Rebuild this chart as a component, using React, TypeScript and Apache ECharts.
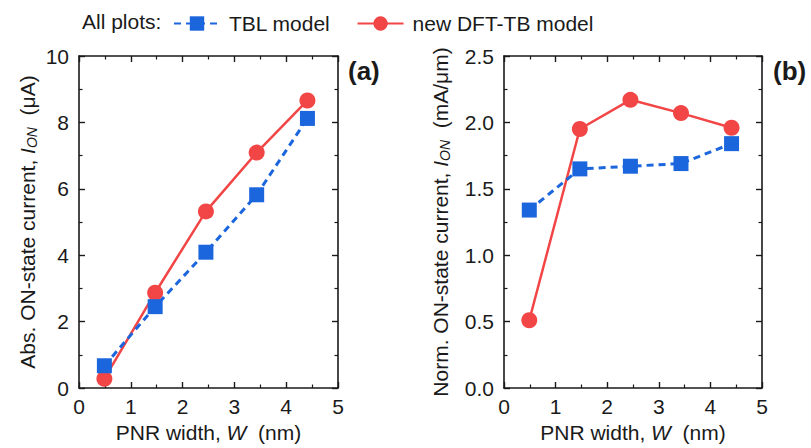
import React, { useEffect, useRef } from "react";
import * as echarts from "echarts";

const widths = [0.49, 1.47, 2.45, 3.43, 4.41];
const absTBL = [0.67, 2.45, 4.09, 5.82, 8.12];
const absDFT = [0.28, 2.87, 5.32, 7.09, 8.66];
const normTBL = [1.34, 1.65, 1.67, 1.69, 1.84];
const normDFT = [0.51, 1.95, 2.17, 2.07, 1.96];

const seriesNames = ["TBL model", "new DFT-TB model"];
const panelLabels = ["(a)", "(b)"];
const legendPrefix = "All plots:";

const FONT = "Liberation Sans, Arial, sans-serif";
const BLUE = "#1c66dd";
const RED = "#f24646";
const AX = "#1a1a1a";

function pairs(xs: number[], ys: number[]) {
  return xs.map((x, i) => [x, ys[i]]);
}

const richName = {
  i: { fontStyle: "italic", fontSize: 21, fontFamily: FONT, color: AX },
  sub: { fontStyle: "italic", fontSize: 14, fontFamily: FONT, color: AX, padding: [9, 0, 0, 0] },
};

function xAxisPair(gridIndex: number) {
  const base = {
    gridIndex,
    type: "value",
    min: 0,
    max: 5,
    interval: 1,
    axisLine: { show: true, onZero: false, lineStyle: { color: AX, width: 1.6 } },
    axisTick: { show: true, inside: true, length: 6, lineStyle: { color: AX, width: 1.4 } },
    minorTick: { show: true, splitNumber: 2, length: 3.5, lineStyle: { color: AX, width: 1.2 } },
    splitLine: { show: false },
  };
  return [
    {
      ...base,
      position: "bottom",
      axisLabel: { show: true, fontSize: 21, fontFamily: FONT, color: AX, margin: 8 },
      name: "PNR width, {i|W}  (nm)",
      nameLocation: "middle",
      nameGap: 34,
      nameTextStyle: { fontSize: 21, fontFamily: FONT, color: AX, rich: richName },
    },
    { ...base, position: "top", axisLabel: { show: false } },
  ];
}

function yAxisPair(gridIndex: number, max: number, interval: number, name: string, gap: number, dec: number) {
  const base = {
    gridIndex,
    type: "value",
    min: 0,
    max,
    interval,
    axisLine: { show: true, onZero: false, lineStyle: { color: AX, width: 1.6 } },
    axisTick: { show: true, inside: true, length: 6, lineStyle: { color: AX, width: 1.4 } },
    minorTick: { show: true, splitNumber: 2, length: 3.5, lineStyle: { color: AX, width: 1.2 } },
    splitLine: { show: false },
  };
  return [
    {
      ...base,
      position: "left",
      axisLabel: {
        show: true,
        fontSize: 21,
        fontFamily: FONT,
        color: AX,
        margin: 10,
        formatter: (v: number) => v.toFixed(dec),
      },
      name,
      nameLocation: "middle",
      nameGap: gap,
      nameTextStyle: { fontSize: 21, fontFamily: FONT, color: AX, rich: richName },
    },
    { ...base, position: "right", axisLabel: { show: false } },
  ];
}

export default function App() {
  const ref = useRef<HTMLDivElement>(null);
  useEffect(() => {
    if (!ref.current) return;
    const chart = echarts.init(ref.current, undefined, { renderer: "svg" });
    const blueSeries = (xi: number, yi: number, data: number[][]) => ({
      name: seriesNames[0],
      type: "line",
      xAxisIndex: xi,
      yAxisIndex: yi,
      data,
      symbol: "rect",
      symbolSize: 15,
      itemStyle: { color: BLUE },
      lineStyle: { color: BLUE, width: 3, type: [7, 5] },
      z: 3,
    });
    const redSeries = (xi: number, yi: number, data: number[][]) => ({
      name: seriesNames[1],
      type: "line",
      xAxisIndex: xi,
      yAxisIndex: yi,
      data,
      symbol: "circle",
      symbolSize: 16,
      itemStyle: { color: RED },
      lineStyle: { color: RED, width: 2.5 },
      z: 2,
    });
    chart.setOption({
      animation: false,
      backgroundColor: "#ffffff",
      textStyle: { fontFamily: FONT },
      legend: {
        data: seriesNames,
        left: 168,
        top: 8,
        itemWidth: 46,
        itemHeight: 18,
        itemGap: 26,
        textStyle: { fontSize: 21, fontFamily: FONT, color: AX, padding: [0, 0, 0, 4] },
      },
      graphic: [
        {
          type: "text",
          left: 82,
          top: 11,
          style: { text: legendPrefix, fontSize: 21, fontFamily: FONT, fill: AX },
        },
        {
          type: "text",
          left: 348,
          top: 58,
          style: { text: panelLabels[0], fontSize: 26, fontWeight: "bold", fontFamily: FONT, fill: AX },
        },
        {
          type: "text",
          left: 773,
          top: 58,
          style: { text: panelLabels[1], fontSize: 26, fontWeight: "bold", fontFamily: FONT, fill: AX },
        },
      ],
      grid: [
        { left: 79, top: 56, width: 259, height: 334 },
        { left: 504, top: 56, width: 258, height: 334 },
      ],
      xAxis: [...xAxisPair(0), ...xAxisPair(1)],
      yAxis: [
        ...yAxisPair(0, 10, 2, "Abs. ON-state current, {i|I}{sub|ON}  (μA)", 40, 0),
        ...yAxisPair(1, 2.5, 0.5, "Norm. ON-state current, {i|I}{sub|ON}  (mA/μm)", 52, 1),
      ],
      series: [
        redSeries(0, 0, pairs(widths, absDFT)),
        blueSeries(0, 0, pairs(widths, absTBL)),
        redSeries(2, 2, pairs(widths, normDFT)),
        blueSeries(2, 2, pairs(widths, normTBL)),
      ],
    });
    return () => chart.dispose();
  }, []);
  return <div ref={ref} style={{ width: 811, height: 448, position: "absolute", left: 0, top: 0 }} />;
}
